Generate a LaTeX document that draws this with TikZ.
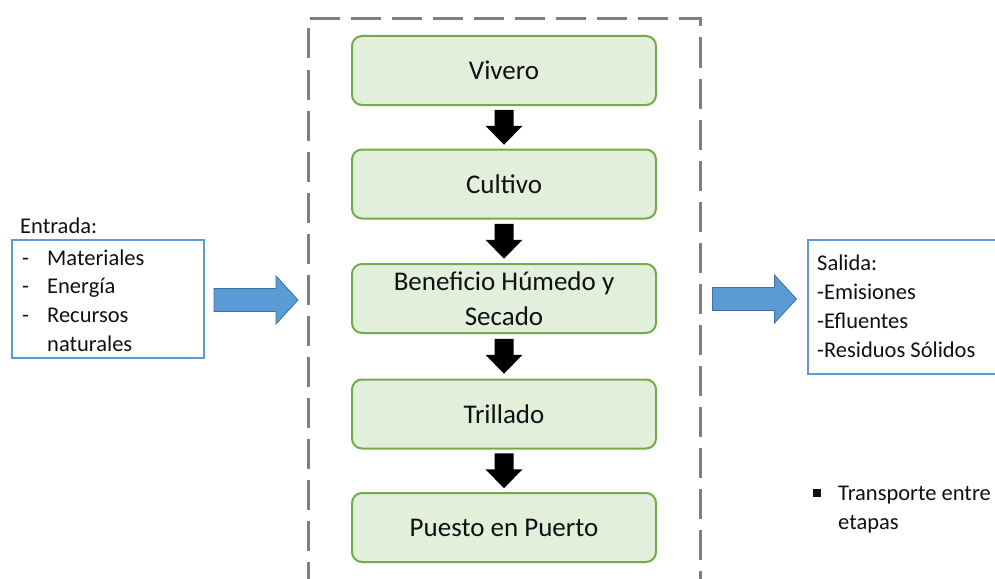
\documentclass[tikz,border=0pt]{standalone}
\usepackage{fontspec}
\setmainfont{Carlito}
\usetikzlibrary{calc}
\definecolor{gfill}{HTML}{E2EFDA}
\definecolor{gline}{HTML}{70AD47}
\definecolor{bline}{HTML}{5B9BD5}
\definecolor{bdark}{HTML}{41719C}
\definecolor{frameg}{HTML}{7F7F7F}
\definecolor{txt}{HTML}{111111}
\newcommand\myblockarrow[1]{%
  \filldraw[fill=bline,draw=bdark,line width=0.8pt]
    ([shift={(-42,-11.5)}]#1) -- ([shift={(20,-11.5)}]#1) -- ([shift={(20,-24)}]#1)
    -- ([shift={(42,0)}]#1) -- ([shift={(20,24)}]#1) -- ([shift={(20,11.5)}]#1)
    -- ([shift={(-42,11.5)}]#1) -- cycle;}
\begin{document}
\begin{tikzpicture}[x=1pt,y=-1pt,
  stage/.style={draw=gline,fill=gfill,line width=2pt,rounded corners=10pt,
    minimum width=304pt,minimum height=69pt,inner sep=0pt,align=center,
    text=txt,font=\fontsize{27}{35}\selectfont},
  sidetxt/.style={anchor=base west,inner sep=0pt,text=txt,font=\fontsize{22.5}{29}\selectfont},
  bluebox/.style={draw=bline,line width=2pt,inner sep=0pt,anchor=north west}]
\useasboundingbox (0,0) rectangle (995,578);
% dashed frame
\node[draw=frameg,line width=3pt,dash pattern=on 30pt off 11pt,anchor=north west,
  minimum width=392pt,minimum height=600pt,inner sep=0pt] (frame) at (307,17) {};
% stages
\node[stage] (viv) at (504,70.5) {Vivero};
\node[stage] (cul) at (504,184) {Cultivo};
\node[stage] (ben) at (504,298.5) {Beneficio Húmedo y\\Secado};
\node[stage] (tri) at (504,414) {Trillado};
\node[stage] (pue) at (504,527.5) {Puesto en Puerto};
\foreach \a/\b in {viv/cul,cul/ben,ben/tri,tri/pue}{
  \path (\a.south) -- (\b.north) coordinate[midway] (m\a);
  \fill[black] ([shift={(-9.5,-17.5)}]m\a) -- ([shift={(9.5,-17.5)}]m\a)
    -- ([shift={(9.5,-1.5)}]m\a) -- ([shift={(18.5,-1.5)}]m\a)
    -- ([shift={(0,17.5)}]m\a) -- ([shift={(-18.5,-1.5)}]m\a)
    -- ([shift={(-9.5,-1.5)}]m\a) -- cycle;
}
% entrada
\node[bluebox,minimum width=192pt,minimum height=118pt] (ent) at (11,239) {};
\node[sidetxt] (entt) at (20,233) {Entrada:};
\node[sidetxt] (d1) at (22,265) {-};
\node[sidetxt] (e1) at (47,265) {Materiales};
\node[sidetxt] (d2) at (22,293.5) {-};
\node[sidetxt] (e2) at (47,293.5) {Energía};
\node[sidetxt] (d3) at (22,322.5) {-};
\node[sidetxt] (e3) at (47,322.5) {Recursos};
\node[sidetxt] (e4) at (47,351.5) {naturales};
% salida
\node[bluebox,minimum width=200pt,minimum height=134pt] (sal) at (807,239) {};
\node[sidetxt] (s0) at (817,270) {Salida:};
\node[sidetxt] (s1) at (817,299.5) {-Emisiones};
\node[sidetxt] (s2) at (817,328) {-Efluentes};
\node[sidetxt] (s3) at (817,357) {-Residuos Sólidos};
% block arrows
\coordinate (la) at ($(ent.north east)!0.5!(frame.north west)$);
\coordinate (lam) at (la |- 0,300);
\myblockarrow{lam}
\coordinate (ra) at ($(frame.north east)!0.5!(sal.north west)$);
\coordinate (ram) at (ra |- 0,299);
\myblockarrow{ram}
% transport note
\fill[txt] (813,489) rectangle (821,497);
\node[sidetxt] (t1) at (838,500) {Transporte entre};
\node[sidetxt] (t2) at (838,529.5) {etapas};
\end{tikzpicture}
\end{document}
